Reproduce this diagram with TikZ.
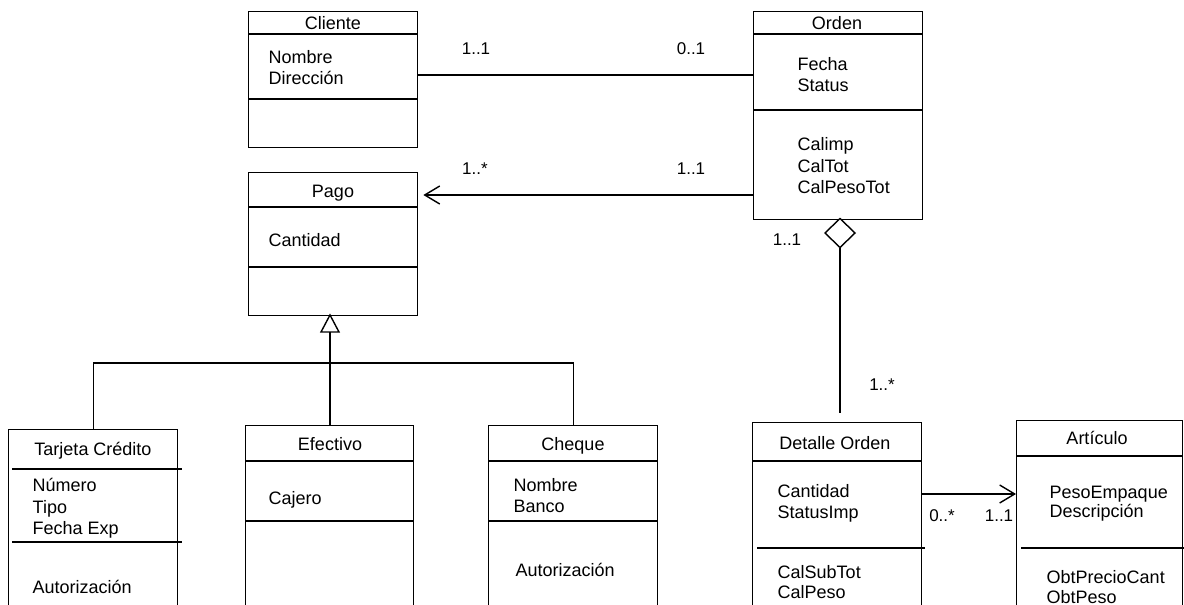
\documentclass[tikz,border=0pt]{standalone}
\usepackage{fontspec}
\setmainfont{Liberation Sans}
\usetikzlibrary{arrows.meta,shapes.geometric,calc}
\begin{document}
\begin{tikzpicture}[x=1pt,y=-1pt,line width=1.4pt,
  box/.style={draw,rectangle,anchor=north west,inner sep=0pt,line width=1.4pt},
  ttl/.style={anchor=base,inner sep=0pt,font=\fontsize{18}{21}\selectfont},
  attr/.style={anchor=base west,inner sep=0pt,font=\fontsize{18}{21}\selectfont},
  mult/.style={anchor=base,inner sep=0pt,font=\fontsize{17}{20}\selectfont},
  opentip/.style={-{Straight Barb[length=15pt,width=18pt,line width=1.4pt]}}]
\clip (0,0) rectangle (1184,605);
\fill[white] (0,0) rectangle (1184,605);

% ---------- Cliente
\node[box,minimum width=169pt,minimum height=136pt] (cliente) at (248,11) {};
\draw (cliente.west |- 0,34) -- (cliente.east |- 0,34);
\draw (cliente.west |- 0,99) -- (cliente.east |- 0,99);
\node[ttl] (clienteT) at (333,29.5) {Cliente};
\node[attr] (clienteA1) at (268,63) {Nombre};
\node[attr] (clienteA2) at (268,84) {Dirección};

% ---------- Orden
\node[box,minimum width=169pt,minimum height=208pt] (orden) at (753,11) {};
\draw (orden.west |- 0,34) -- (orden.east |- 0,34);
\draw (orden.west |- 0,110) -- (orden.east |- 0,110);
\node[ttl] (ordenT) at (837,30) {Orden};
\node[attr] (ordenA1) at (797,70) {Fecha};
\node[attr] (ordenA2) at (797,91) {Status};
\node[attr] (ordenM1) at (797,150) {Calimp};
\node[attr] (ordenM2) at (797,172) {CalTot};
\node[attr] (ordenM3) at (797,193) {CalPesoTot};

% ---------- Pago
\node[box,minimum width=169pt,minimum height=143pt] (pago) at (248,172) {};
\draw (pago.west |- 0,207) -- (pago.east |- 0,207);
\draw (pago.west |- 0,267) -- (pago.east |- 0,267);
\node[ttl] (pagoT) at (333,197) {Pago};
\node[attr] (pagoA1) at (268,246) {Cantidad};

% ---------- Tarjeta Credito
\node[box,minimum width=169pt,minimum height=200pt] (tarjeta) at (8,429) {};
\draw (12,469) -- (182,469);
\draw (12,542) -- (182,542);
\node[ttl] (tarjetaT) at (93,455) {Tarjeta Crédito};
\node[attr] (tarjetaA1) at (32,491) {Número};
\node[attr] (tarjetaA2) at (32,513) {Tipo};
\node[attr] (tarjetaA3) at (32,534) {Fecha Exp};
\node[attr] (tarjetaM1) at (32,593) {Autorización};

% ---------- Efectivo
\node[box,minimum width=168pt,minimum height=200pt] (efectivo) at (245,425) {};
\draw (efectivo.west |- 0,461) -- (efectivo.east |- 0,461);
\draw (efectivo.west |- 0,521) -- (efectivo.east |- 0,521);
\node[ttl] (efectivoT) at (330,450) {Efectivo};
\node[attr] (efectivoA1) at (268,504) {Cajero};

% ---------- Cheque
\node[box,minimum width=169pt,minimum height=200pt] (cheque) at (488,425) {};
\draw (cheque.west |- 0,461) -- (cheque.east |- 0,461);
\draw (cheque.west |- 0,521) -- (cheque.east |- 0,521);
\node[ttl] (chequeT) at (573,450) {Cheque};
\node[attr] (chequeA1) at (513,491) {Nombre};
\node[attr] (chequeA2) at (513,512) {Banco};
\node[attr] (chequeM1) at (515,576) {Autorización};

% ---------- Detalle Orden
\node[box,minimum width=169pt,minimum height=200pt] (detalle) at (752,422) {};
\draw (detalle.west |- 0,461) -- (detalle.east |- 0,461);
\draw (757,548) -- (925,548);
\node[ttl] (detalleT) at (835,449) {Detalle Orden};
\node[attr] (detalleA1) at (777,497) {Cantidad};
\node[attr] (detalleA2) at (777,518) {StatusImp};
\node[attr] (detalleM1) at (777,578) {CalSubTot};
\node[attr] (detalleM2) at (777,598) {CalPeso};

% ---------- Articulo
\node[box,minimum width=166pt,minimum height=200pt] (articulo) at (1016,420) {};
\draw (articulo.west |- 0,456) -- (articulo.east |- 0,456);
\draw (1021,548) -- (1184,548);
\node[ttl] (articuloT) at (1097,444) {Artículo};
\node[attr] (articuloA1) at (1049,498) {PesoEmpaque};
\node[attr] (articuloA2) at (1049,517) {Descripción};
\node[attr] (articuloM1) at (1046,583) {ObtPrecioCant};
\node[attr] (articuloM2) at (1046,603) {ObtPeso};

% ---------- connectors
\coordinate (yCO) at (0,75);
\coordinate (yOP) at (0,195);
\coordinate (yDA) at (0,494);
\coordinate (bus) at (330,363);

% Cliente -- Orden
\draw (cliente.east |- yCO) -- (orden.west |- yCO);
\node[mult] (m1) at (476,54) {1..1};
\node[mult] (m2) at (691,54) {0..1};

% Orden -> Pago
\draw[opentip,shorten >=5pt] (orden.west |- yOP) -- (pago.east |- yOP);
\node[mult] (m3) at (475,174) {1..*};
\node[mult] (m4) at (691,174) {1..1};

% Aggregation Orden <>-- Detalle
\node[diamond,draw,fill=white,inner sep=0pt,outer sep=0pt,minimum width=30pt,minimum height=29pt,anchor=north] (agg) at (840,218.5) {};
\draw[shorten >=9pt] (agg.south) -- (agg.south |- detalle.north);
\node[mult] (m5) at (787,245) {1..1};
\node[mult] (m6) at (882,390) {1..*};

% Detalle -> Articulo
\draw[opentip] (detalle.east |- yDA) -- (articulo.west |- yDA);
\node[mult] (m7) at (942,521) {0..*};
\node[mult] (m8) at (999,521) {1..1};

% Generalization
\draw[fill=white] (330,315) coordinate (gtip) -- ++(-9,17) coordinate (gl) -- ++(18,0) coordinate (gr) -- cycle;
\coordinate (gbase) at ($(gl)!0.5!(gr)$);
\draw (gbase) -- (gbase |- efectivo.north);
\draw (tarjeta.north) -- (tarjeta.north |- bus) -- (cheque.north |- bus) -- (cheque.north);
\end{tikzpicture}
\end{document}
